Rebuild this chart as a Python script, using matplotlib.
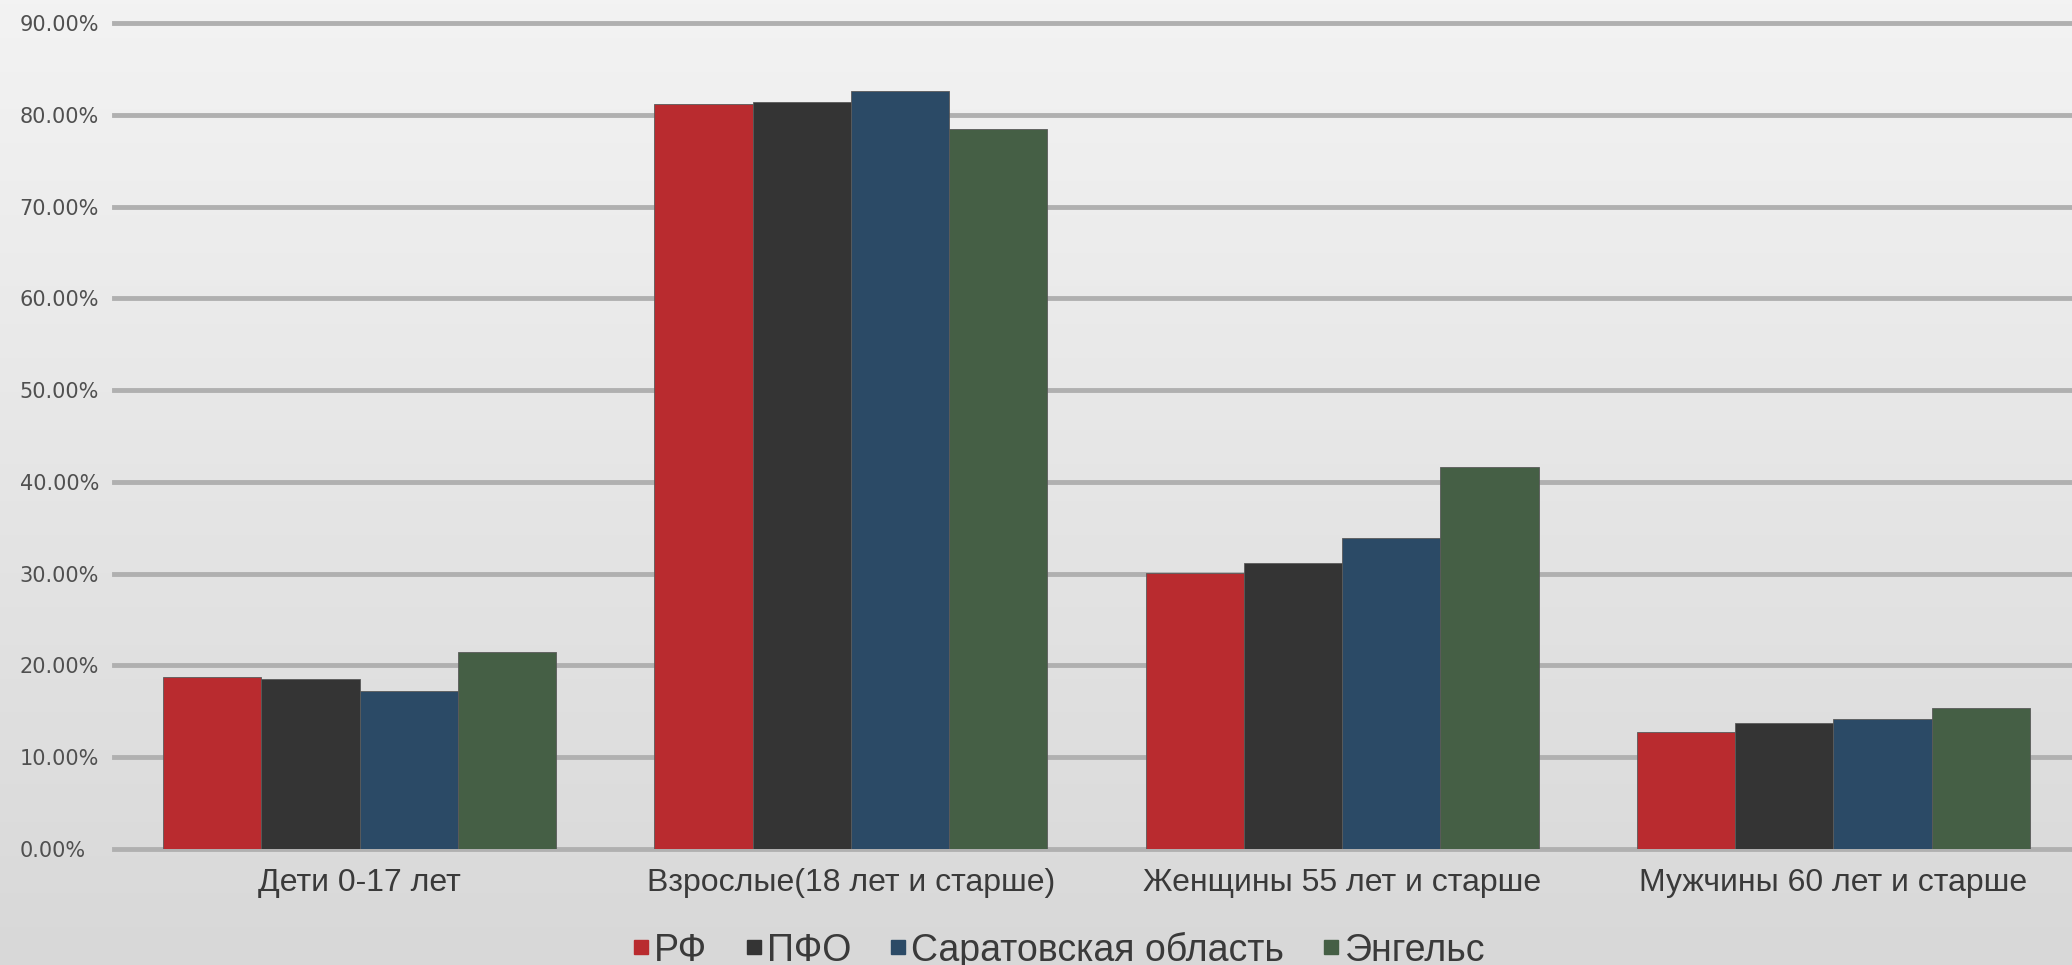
import numpy as np
import matplotlib
matplotlib.use("Agg")
from matplotlib import pyplot as plt
from matplotlib.lines import Line2D
from matplotlib.ticker import FuncFormatter

plt.rcParams['font.family'] = ['Liberation Sans', 'DejaVu Sans']

categories = ["Дети 0-17 лет", "Взрослые(18 лет и старше)",
              "Женщины 55 лет и старше", "Мужчины 60 лет и старше"]
series_names = ["РФ", "ПФО", "Саратовская область", "Энгельс"]
rf = [18.7, 81.2, 30.1, 12.7]
pfo = [18.5, 81.4, 31.2, 13.7]
saratov = [17.2, 82.6, 33.9, 14.2]
engels = [21.5, 78.4, 41.6, 15.4]
colors = ["#b92b2f", "#343434", "#2b4a66", "#455f45"]

fig = plt.figure(figsize=(20.72, 9.65), dpi=100)

# background gradient
bg = fig.add_axes([0, 0, 1, 1], zorder=-10)
grad = np.linspace(0, 1, 256).reshape(-1, 1)
bg.imshow(grad, aspect='auto', cmap=matplotlib.colors.LinearSegmentedColormap.from_list(
    "bg", ["#f3f3f3", "#d8d8d8"]), extent=[0, 1, 0, 1], origin='upper')
bg.axis('off')

ax = fig.add_axes([114/2072, 1-849/965, (2079-114)/2072, (849-23)/965])
ax.set_facecolor('none')

x = np.arange(len(categories))
w = 0.2
for i, (vals, name) in enumerate(zip([rf, pfo, saratov, engels], series_names)):
    ax.bar(x + (i - 1.5) * w, np.array(vals) / 100, w, color=colors[i],
           edgecolor='#5a5a5a', linewidth=0.6, label=name, zorder=3)

ax.set_xlim(-0.5, 3.5)
ax.set_ylim(0, 0.9)
ax.set_yticks(np.arange(0, 0.91, 0.1))
ax.yaxis.set_major_formatter(FuncFormatter(lambda v, p: f"{v*100:.2f}%"))
ax.yaxis.grid(True, color='#b0b0b0', linewidth=3.5, zorder=0)
for gl in ax.get_ygridlines():
    gl.set_clip_on(False)
ax.set_axisbelow(True)
for s in ax.spines.values():
    s.set_visible(False)
ax.tick_params(axis='y', length=0, pad=68, labelsize=15, labelcolor='#505050')
for lbl in ax.get_yticklabels():
    lbl.set_horizontalalignment('left')
    lbl.set_fontfamily('DejaVu Sans')
ax.set_xticks(x)
ax.set_xticklabels(categories)
ax.tick_params(axis='x', length=0, pad=14, labelsize=23, labelcolor='#3a3a3a')

handles = [Line2D([], [], marker='s', linestyle='none', markersize=10, color=c) for c in colors]
fig.legend(handles, series_names, loc='center', bbox_to_anchor=(1058/2072, 1-950/965),
           ncol=4, frameon=False, fontsize=27, handlelength=0.5, handletextpad=0.1,
           columnspacing=1.0, labelcolor='#3a3a3a')

fig.savefig("out.png", dpi=100)
